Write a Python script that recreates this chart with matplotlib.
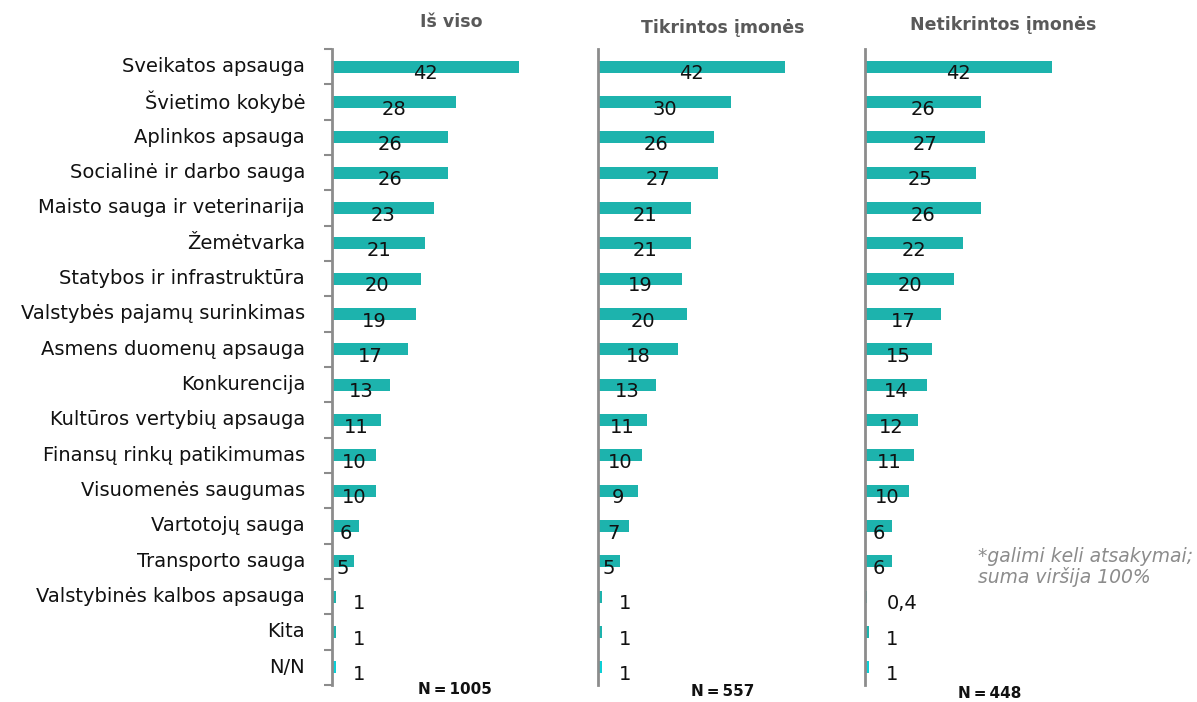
import matplotlib
matplotlib.use('Agg')
import matplotlib.pyplot as plt

# Sritys ir atsakymų dalys (%)
kategorijos = ['Sveikatos apsauga', 'Švietimo kokybė', 'Aplinkos apsauga',
               'Socialinė ir darbo sauga', 'Maisto sauga ir veterinarija',
               'Žemėtvarka', 'Statybos ir infrastruktūra',
               'Valstybės pajamų surinkimas', 'Asmens duomenų apsauga',
               'Konkurencija', 'Kultūros vertybių apsauga',
               'Finansų rinkų patikimumas', 'Visuomenės saugumas',
               'Vartotojų sauga', 'Transporto sauga',
               'Valstybinės kalbos apsauga', 'Kita', 'N/N']
is_viso = [42, 28, 26, 26, 23, 21, 20, 19, 17, 13, 11, 10, 10, 6, 5, 1, 1, 1]
tikrintos = [42, 30, 26, 27, 21, 21, 19, 20, 18, 13, 11, 10, 9, 7, 5, 1, 1, 1]
netikrintos = [42, 26, 27, 25, 26, 22, 20, 17, 15, 14, 12, 11, 10, 6, 6, 0.4, 1, 1]

antrastes = ['Iš viso', 'Tikrintos įmonės', 'Netikrintos įmonės']
imtys = ['N\u2009=\u20091005', 'N\u2009=\u2009557', 'N\u2009=\u2009448']
serijos = [is_viso, tikrintos, netikrintos]

W, H = 1197, 702
fig = plt.figure(figsize=(W / 100, H / 100), dpi=100)
plt.rcParams['font.family'] = ['DejaVu Sans']

teal = '#1DB3AD'
cyan = '#0CCFD6'
pilka = '#8C8C8C'

kairieji = [332, 598, 865]
ax_plotis = 240
virsus, apacia = 49, 685
pavad_x = [451, 723, 1003]
pavad_y = [22, 28, 25]
n_x = [455, 723, 990]
n_y = [690, 692, 694]

y = list(range(len(kategorijos)))
for i, (reiksmes, kairys) in enumerate(zip(serijos, kairieji)):
    ax = fig.add_axes([kairys / W, 1 - apacia / H, ax_plotis / W, (apacia - virsus) / H])
    spalvos = [teal] * (len(kategorijos) - 1) + [cyan]
    ax.barh(y, reiksmes, height=0.34, color=spalvos)
    ax.set_xlim(0, 54)
    ax.set_ylim(len(kategorijos) - 0.5, -0.5)
    for s in ['top', 'right', 'bottom']:
        ax.spines[s].set_visible(False)
    ax.spines['left'].set_color(pilka)
    ax.spines['left'].set_linewidth(2)
    ax.set_xticks([])
    if i == 0:
        ax.set_yticks([k - 0.5 for k in range(len(kategorijos) + 1)], minor=False)
        ax.set_yticklabels([])
        ax.tick_params(axis='y', length=6, width=1.5, color=pilka)
        for k, pav in enumerate(kategorijos):
            ax.text(-27 / 4.45, k, pav, ha='right', va='center', fontsize=14, color='#111111')
    else:
        ax.set_yticks([])

    # reikšmių etiketės
    for k, v in enumerate(reiksmes):
        tekstas = str(v).replace('.', ',')
        if v < 2:
            ax.text(4.8, k + 0.2, tekstas, ha='left', va='center', fontsize=14, color='#111111')
        else:
            ax.text(v / 2, k + 0.2, tekstas, ha='center', va='center', fontsize=14, color='#111111')

    fig.text(pavad_x[i] / W, 1 - pavad_y[i] / H, antrastes[i], ha='center', va='center',
             fontsize=12.5, fontweight='bold', color='#595959')
    fig.text(n_x[i] / W, 1 - n_y[i] / H, imtys[i], ha='center', va='center',
             fontsize=11, fontweight='bold', color='#111111')

fig.text(978 / W, 1 - 567 / H, '*galimi keli atsakymai;\nsuma viršija 100%',
         ha='left', va='center', fontsize=13.5, style='italic', color='#8C8C8C',
         linespacing=1.1)

plt.savefig('out.png', dpi=100)
plt.close()
